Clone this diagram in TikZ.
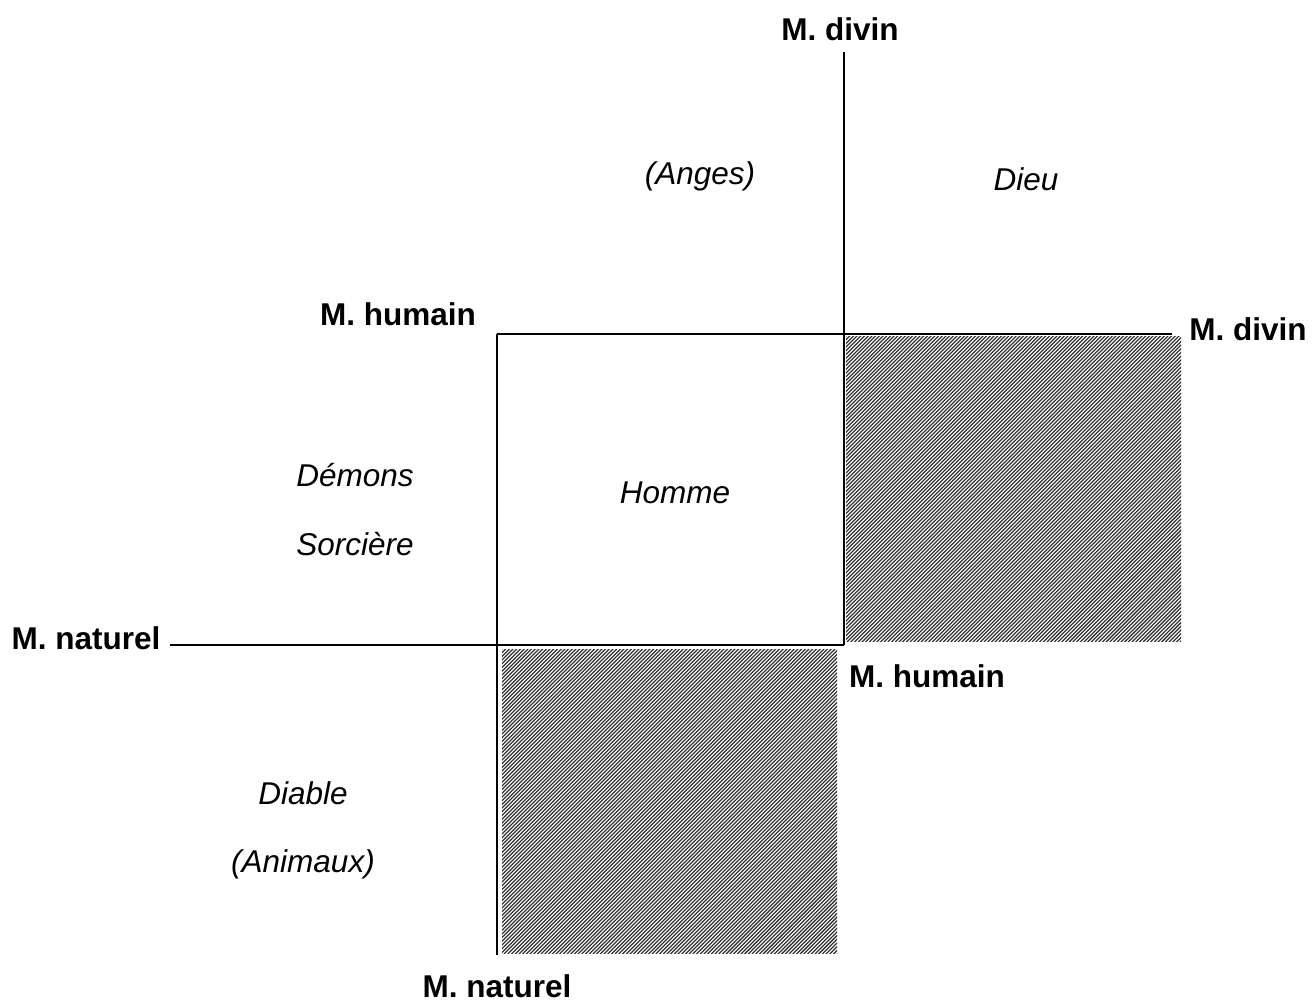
\documentclass[tikz,border=0pt]{standalone}
\usepackage{fontspec}
\setmainfont{Liberation Sans}
\begin{document}
\begin{tikzpicture}[x=1pt,y=-1pt,
  axis/.style={line width=2.4pt},
  hatch/.style={line width=1.25pt, black!80},
  lbl/.style={font=\fontsize{31.5}{36}\selectfont\bfseries, anchor=base, inner sep=0pt},
  being/.style={font=\fontsize{31.5}{36}\selectfont\itshape, anchor=base, inner sep=0pt}]
\useasboundingbox (0,0) rectangle (1312,1003);

% hatched fields
\foreach \x/\y/\w/\h in {846/336/335/305, 502/649/335/304}{
  \begin{scope}
    \clip (\x,\y) rectangle ++(\w,\h);
    \foreach \k in {0,3.7,...,650}{
      \draw[hatch] (\x+\k-\h-1,\y+\h+1) -- ++(\h+2,-\h-2);
    }
  \end{scope}
}

% axes
\coordinate (divT) at (844,52);
\coordinate (cross) at (844,645);
\coordinate (humL) at (497,334);
\coordinate (divR) at (1172,334);
\coordinate (natL) at (170,645);
\coordinate (natB) at (497,955);
\draw[axis] (divT) -- (cross);
\draw[axis] (humL) -- (divR);
\draw[axis] (natL) -- (cross);
\draw[axis] (humL) -- (natB);

% axis labels
\node[lbl] (l1) at (840,41) {M. divin};
\node[lbl] (l2) at (398,325) {M. humain};
\node[lbl] (l3) at (1248,340) {M. divin};
\node[lbl] (l4) at (86,649) {M. naturel};
\node[lbl] (l5) at (927,687) {M. humain};
\node[lbl] (l6) at (497,997) {M. naturel};

% beings
\node[being] (b1) at (700,185) {(Anges)};
\node[being] (b2) at (1026,191) {Dieu};
\node[being] (b3) at (355,486) {Démons};
\node[being] (b4) at (355,555) {Sorcière};
\node[being] (b5) at (675,503) {Homme};
\node[being] (b6) at (303,804) {Diable};
\node[being] (b7) at (303,872) {(Animaux)};
\end{tikzpicture}
\end{document}
